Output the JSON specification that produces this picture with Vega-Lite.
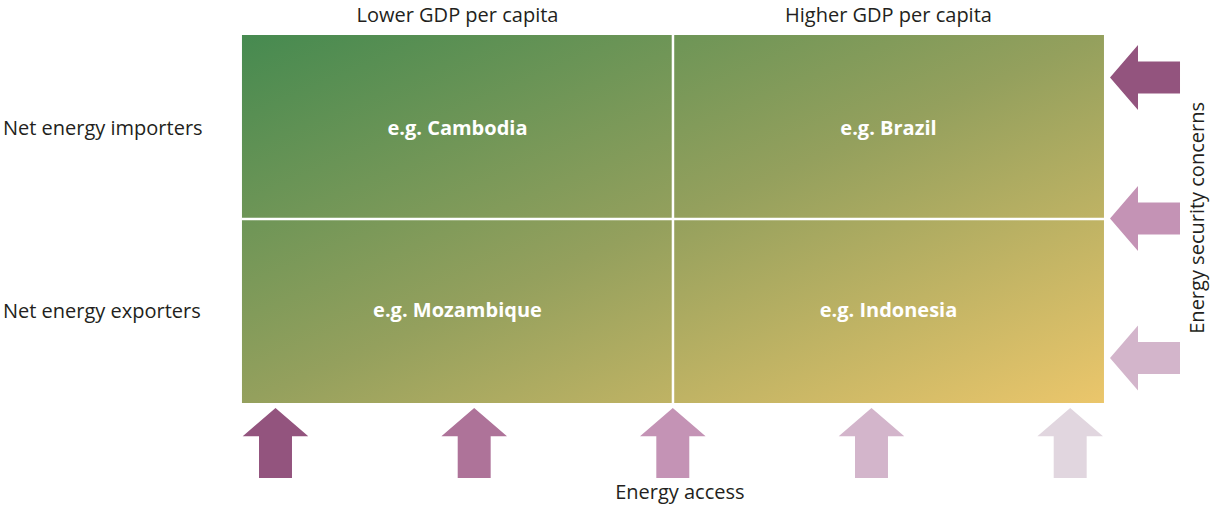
{
  "$schema": "https://vega.github.io/schema/vega-lite/v6.json",
  "width": 1210,
  "height": 507,
  "autosize": {"type": "none"},
  "padding": 0,
  "background": "white",
  "config": {"view": {"stroke": null}},
  "layer": [
    {
      "data": {"values": [{"x": 0, "x2": 1, "y": 0, "y2": 1}]},
      "mark": {
        "type": "rect",
        "fill": {"gradient": "linear", "x1": 0, "y1": 0, "x2": 1, "y2": 1,
          "stops": [
            {"offset": 0, "color": "#468a50"},
            {"offset": 0.5, "color": "#94a05d"},
            {"offset": 1, "color": "#ebc66b"}
          ]}
      },
      "encoding": {
        "x": {"field": "x", "type": "quantitative", "scale": {"domain": [-0.2807, 1.123], "nice": false, "zero": false}, "axis": null},
        "x2": {"field": "x2"},
        "y": {"field": "y", "type": "quantitative", "scale": {"domain": [-0.2826, 1.0951], "nice": false, "zero": false}, "axis": null},
        "y2": {"field": "y2"}
      }
    },
    {
      "data": {"values": [
        {"x": 0.5, "x2": 0.5, "y": 0, "y2": 1},
        {"x": 0, "x2": 1, "y": 0.5, "y2": 0.5}
      ]},
      "mark": {"type": "rule", "color": "white", "strokeWidth": 2.5},
      "encoding": {
        "x": {"field": "x", "type": "quantitative"},
        "x2": {"field": "x2"},
        "y": {"field": "y", "type": "quantitative"},
        "y2": {"field": "y2"}
      }
    },
    {
      "data": {"values": [
        {"access": 0.0389, "y": -0.1087, "level": 1},
        {"access": 0.2694, "y": -0.1087, "level": 2},
        {"access": 0.4998, "y": -0.1087, "level": 3},
        {"access": 0.7303, "y": -0.1087, "level": 4},
        {"access": 0.9608, "y": -0.1087, "level": 5}
      ]},
      "mark": {"type": "point", "filled": true, "opacity": 1, "strokeWidth": 0, "size": 4900,
        "shape": "M0,-1 L0.937,-0.19 L0.471,-0.19 L0.471,1 L-0.471,1 L-0.471,-0.19 L-0.937,-0.19 Z"},
      "encoding": {
        "x": {"field": "access", "type": "quantitative"},
        "y": {"field": "y", "type": "quantitative"},
        "color": {"field": "level", "type": "ordinal", "legend": null,
          "scale": {"domain": [1, 2, 3, 4, 5], "range": ["#93547e", "#ae7399", "#c493b5", "#d3b5cb", "#e1d6df"]}}
      }
    },
    {
      "data": {"values": [
        {"x": 1.0476, "security": 0.8845, "level": 1},
        {"x": 1.0476, "security": 0.5014, "level": 3},
        {"x": 1.0476, "security": 0.1223, "level": 4}
      ]},
      "mark": {"type": "point", "filled": true, "opacity": 1, "strokeWidth": 0, "size": 4900,
        "shape": "M-1,0 L-0.2,-0.93 L-0.2,-0.46 L1,-0.46 L1,0.46 L-0.2,0.46 L-0.2,0.93 Z"},
      "encoding": {
        "x": {"field": "x", "type": "quantitative"},
        "y": {"field": "security", "type": "quantitative"},
        "color": {"field": "level", "type": "ordinal", "legend": null}
      }
    },
    {
      "data": {"values": [
        {"x": 0.25, "y": 1.0516, "label": "Lower GDP per capita"},
        {"x": 0.75, "y": 1.0516, "label": "Higher GDP per capita"},
        {"x": 0.508, "y": -0.2446, "label": "Energy access"}
      ]},
      "mark": {"type": "text", "font": "Open Sans", "fontSize": 20, "color": "#231f20", "align": "center", "baseline": "middle"},
      "encoding": {
        "x": {"field": "x", "type": "quantitative"},
        "y": {"field": "y", "type": "quantitative"},
        "text": {"field": "label"}
      }
    },
    {
      "data": {"values": [
        {"x": -0.2773, "y": 0.7446, "label": "Net energy importers"},
        {"x": -0.2773, "y": 0.2473, "label": "Net energy exporters"}
      ]},
      "mark": {"type": "text", "font": "Open Sans", "fontSize": 20, "color": "#231f20", "align": "left", "baseline": "middle"},
      "encoding": {
        "x": {"field": "x", "type": "quantitative"},
        "y": {"field": "y", "type": "quantitative"},
        "text": {"field": "label"}
      }
    },
    {
      "data": {"values": [
        {"x": 1.109, "y": 0.503, "label": "Energy security concerns"}
      ]},
      "mark": {"type": "text", "font": "Open Sans", "fontSize": 20, "color": "#231f20", "align": "center", "baseline": "middle", "angle": 270},
      "encoding": {
        "x": {"field": "x", "type": "quantitative"},
        "y": {"field": "y", "type": "quantitative"},
        "text": {"field": "label"}
      }
    },
    {
      "data": {"values": [
        {"x": 0.25, "y": 0.745, "label": "e.g. Cambodia"},
        {"x": 0.75, "y": 0.745, "label": "e.g. Brazil"},
        {"x": 0.25, "y": 0.25, "label": "e.g. Mozambique"},
        {"x": 0.75, "y": 0.25, "label": "e.g. Indonesia"}
      ]},
      "mark": {"type": "text", "font": "Open Sans", "fontSize": 20, "fontWeight": "bold", "color": "white", "align": "center", "baseline": "middle"},
      "encoding": {
        "x": {"field": "x", "type": "quantitative"},
        "y": {"field": "y", "type": "quantitative"},
        "text": {"field": "label"}
      }
    }
  ]
}
